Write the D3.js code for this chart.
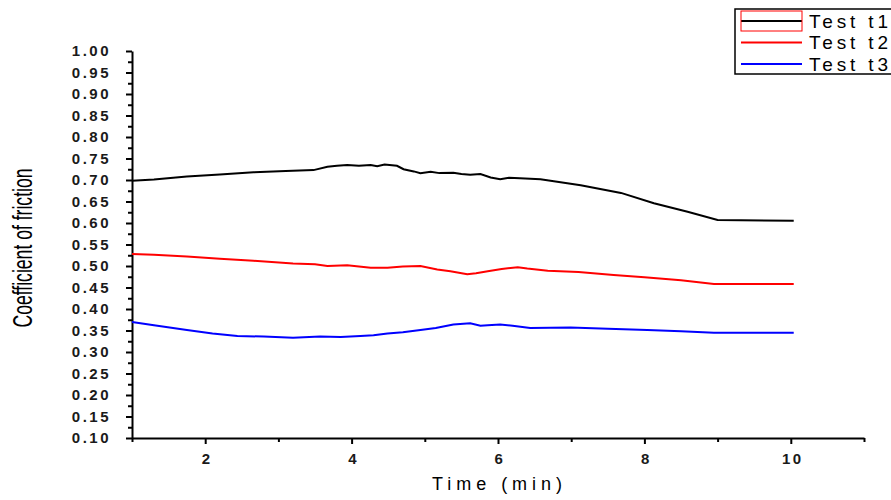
<!DOCTYPE html>
<html>
<head>
<meta charset="utf-8">
<script src="https://cdn.jsdelivr.net/npm/d3@7"></script>
<style>
  body { margin: 0; background: #fff; }
  svg { display: block; font-family: "Liberation Sans", Arial, sans-serif; }
</style>
</head>
<body>
<div id="viz"></div>
<script>
// series: [time (min), coefficient]
var t1 = [[1.0,0.698],[1.3,0.701],[1.75,0.708],[2.2,0.713],[2.66,0.718],[3.1,0.721],[3.48,0.723],[3.67,0.731],[3.8,0.733],
  [3.94,0.735],[4.1,0.733],[4.26,0.735],[4.35,0.732],[4.45,0.736],[4.62,0.733],[4.71,0.725],[4.85,0.72],[4.94,0.716],
  [5.08,0.719],[5.2,0.716],[5.39,0.717],[5.5,0.714],[5.62,0.712],[5.76,0.714],[5.9,0.706],[6.03,0.702],[6.15,0.705],
  [6.3,0.704],[6.58,0.702],[7.13,0.688],[7.68,0.670],[8.13,0.646],[8.59,0.626],[9.0,0.607],[10.04,0.605]];
var t2 = [[1.0,0.528],[1.3,0.526],[1.75,0.522],[2.2,0.517],[2.66,0.512],[3.2,0.506],[3.5,0.504],[3.67,0.500],[3.94,0.502],
  [4.1,0.499],[4.26,0.496],[4.49,0.496],[4.7,0.499],[4.94,0.500],[5.17,0.492],[5.35,0.488],[5.58,0.481],[5.7,0.483],
  [5.86,0.488],[6.05,0.493],[6.27,0.497],[6.4,0.494],[6.68,0.489],[7.1,0.486],[7.58,0.479],[8.0,0.474],[8.5,0.467],
  [8.95,0.458],[10.04,0.458]];
var t3 = [[1.0,0.370],[1.3,0.362],[1.75,0.351],[2.1,0.343],[2.44,0.337],[2.8,0.336],[3.2,0.333],[3.57,0.336],[3.85,0.335],
  [4.12,0.337],[4.3,0.339],[4.49,0.343],[4.7,0.346],[4.94,0.351],[5.15,0.356],[5.39,0.364],[5.62,0.367],[5.76,0.361],
  [5.86,0.362],[6.03,0.364],[6.2,0.361],[6.44,0.356],[6.99,0.357],[7.5,0.354],[8.04,0.351],[8.5,0.348],[8.95,0.345],
  [10.04,0.345]];

var seriesNames = ["Test t1", "Test t2", "Test t3"];
var seriesColors = ["#000000", "#ff0000", "#0000ff"];
var xMajor = [2, 4, 6, 8, 10];
var xMinor = [1, 3, 5, 7, 9, 11];
var yMajor = d3.range(0.10, 1.0001, 0.05);
var yMinor = d3.range(0.125, 1.0, 0.05);

var margin = { top: 51, left: 132 },
  width = 864 - 132,
  height = 438 - 51;

var svg = d3.select("#viz").append("svg")
  .attr("width", 891)
  .attr("height", 500);

var g = svg.append("g")
  .attr("transform", "translate(" + margin.left + "," + margin.top + ")");

var xScale = d3.scaleLinear().domain([1, 11]).range([0, width]);
var yScale = d3.scaleLinear().domain([0.10, 1.00]).range([height, 0]);

// x axis
var xAxis = g.append("g")
  .attr("transform", "translate(0," + height + ")")
  .call(d3.axisBottom(xScale).tickValues(xMajor).tickSize(6).tickSizeOuter(0).tickFormat(d3.format("d")));
g.append("g")
  .attr("transform", "translate(0," + height + ")")
  .call(d3.axisBottom(xScale).tickValues(xMinor).tickSize(4).tickSizeOuter(0).tickFormat(""))
  .select(".domain").remove();

// y axis
var yAxis = g.append("g")
  .call(d3.axisLeft(yScale).tickValues(yMajor).tickSize(6).tickSizeOuter(0).tickFormat(d3.format(".2f")));
g.append("g")
  .call(d3.axisLeft(yScale).tickValues(yMinor).tickSize(4).tickSizeOuter(0).tickFormat(""))
  .select(".domain").remove();

g.selectAll(".domain, .tick line")
  .attr("stroke", "#000")
  .attr("stroke-width", 2);
g.selectAll(".tick text")
  .attr("fill", "#1a1a1a")
  .attr("font-size", 15)
  .attr("font-weight", "bold")
  .attr("letter-spacing", 2.5);
xAxis.selectAll(".tick text").attr("dy", "1.1em").attr("dx", "1.5px");
yAxis.selectAll(".tick text").attr("x", -21);

// lines
var line = d3.line()
  .x(function (d) { return xScale(d[0]); })
  .y(function (d) { return yScale(d[1]); });

[t1, t2, t3].forEach(function (s, i) {
  g.append("path")
    .datum(s)
    .attr("fill", "none")
    .attr("stroke", seriesColors[i])
    .attr("stroke-width", 2)
    .attr("d", line);
});

// axis titles
svg.append("text")
  .attr("transform", "translate(32,248) rotate(-90)")
  .style("text-anchor", "middle")
  .style("font-family", "'Liberation Sans Narrow', 'Liberation Sans', Arial, sans-serif")
  .style("font-size", "27px")
  .attr("textLength", 159)
  .attr("lengthAdjust", "spacingAndGlyphs")
  .text("Coefficient of friction");

svg.append("text")
  .attr("x", 497)
  .attr("y", 490)
  .style("text-anchor", "middle")
  .style("font-size", "18px")
  .attr("textLength", 130)
  .attr("lengthAdjust", "spacing")
  .text("Time (min)");

// legend
var legend = svg.append("g");
legend.append("rect")
  .attr("x", 735).attr("y", 9)
  .attr("width", 170).attr("height", 65)
  .attr("fill", "#fff")
  .attr("stroke", "#000")
  .attr("stroke-width", 1.5);
seriesNames.forEach(function (name, i) {
  var y = 21 + i * 21.5;
  legend.append("line")
    .attr("x1", 741).attr("x2", 802)
    .attr("y1", y).attr("y2", y)
    .attr("stroke", seriesColors[i])
    .attr("stroke-width", 2);
  legend.append("text")
    .attr("x", 809)
    .attr("y", y + 6.5)
    .style("font-size", "19px")
    .attr("textLength", 79)
    .attr("lengthAdjust", "spacing")
    .text(name);
});
legend.append("rect")
  .attr("x", 741).attr("y", 11)
  .attr("width", 61).attr("height", 20)
  .attr("fill", "none")
  .attr("stroke", "#ff0000")
  .attr("stroke-width", 1);
</script>
</body>
</html>
